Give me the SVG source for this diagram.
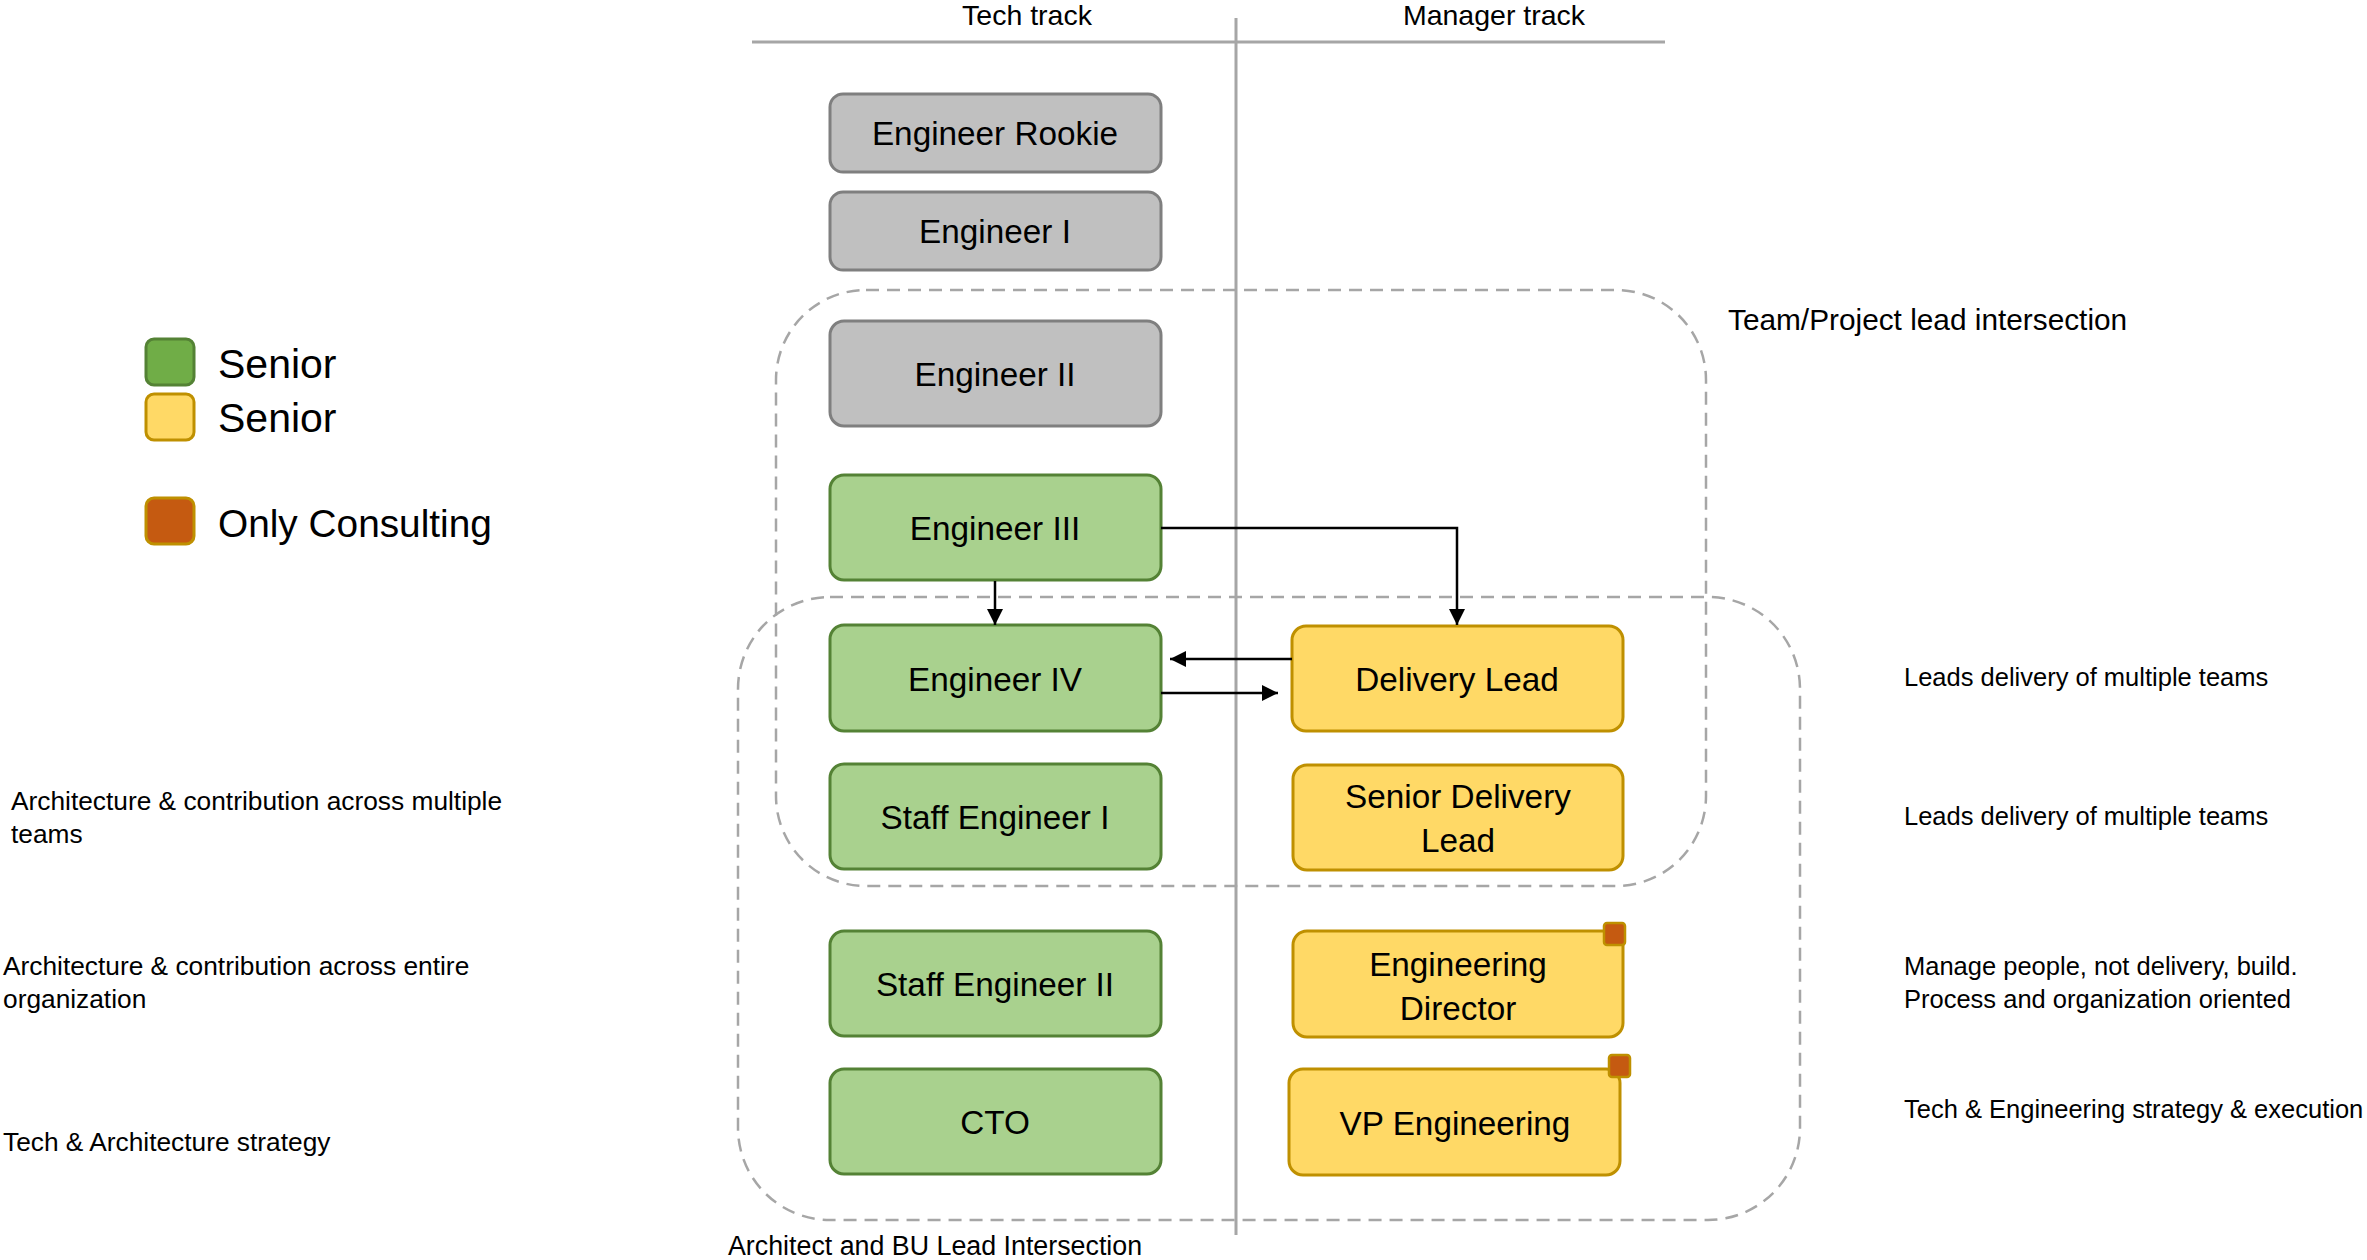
<svg xmlns="http://www.w3.org/2000/svg" width="2367" height="1260" viewBox="0 0 2367 1260">
  <style>
    text { font-family: "Liberation Sans", Arial, sans-serif; fill: #000; }
    .hdr { font-size: 28.5px; text-anchor: middle; }
    .lbl { font-size: 33.3px; text-anchor: middle; }
    .note { font-size: 25.5px; }
    .side { font-size: 26.3px; }
    .zone { font-size: 29.8px; }
    .zone-sm { font-size: 26.8px; }
    .leg { font-size: 41px; }
    .leg-sm { font-size: 38.8px; }
    .grey { fill: #c0c0c0; stroke: #7f7f7f; stroke-width: 3; }
    .green { fill: #a9d18e; stroke: #548235; stroke-width: 3; }
    .yellow { fill: #ffd966; stroke: #bf9000; stroke-width: 3; }
    .badge { fill: #c55a11; stroke: #bf9000; stroke-width: 2.5; }
    .axis { stroke: #a6a6a6; stroke-width: 3; fill: none; }
    .zonebox { fill: none; stroke: #a6a6a6; stroke-width: 2.5; stroke-dasharray: 13 8; }
    .conn { fill: none; stroke: #000; stroke-width: 2.5; }
  </style>
  <defs>
    <marker id="arrow" markerUnits="userSpaceOnUse" markerWidth="16" markerHeight="16" refX="16" refY="8" orient="auto">
      <path d="M0,0 L16,8 L0,16 Z" fill="#000"/>
    </marker>
  </defs>

  <rect width="2367" height="1260" fill="#fff"/>

  <!-- track axes -->
  <g id="axes">
    <line class="axis" x1="752" y1="42" x2="1665" y2="42" stroke-width="3.5"/>
    <line class="axis" x1="1236" y1="18" x2="1236" y2="1235"/>
    <text class="hdr" x="1027" y="25">Tech track</text>
    <text class="hdr" x="1494" y="25">Manager track</text>
  </g>

  <!-- intersection zones -->
  <g id="zone-team-lead">
    <rect class="zonebox" x="776" y="290" width="930" height="596" rx="90" ry="90"/>
    <text class="zone" x="1728" y="330">Team/Project lead intersection</text>
  </g>
  <g id="zone-architect-bu">
    <rect class="zonebox" x="738" y="597" width="1062" height="623" rx="92" ry="92"/>
    <text class="zone-sm" x="728" y="1255">Architect and BU Lead Intersection</text>
  </g>

  <!-- legend -->
  <g id="legend">
    <rect x="146" y="339" width="48" height="46" rx="8" fill="#70ad47" stroke="#548235" stroke-width="3"/>
    <text class="leg" x="218" y="378">Senior</text>
    <rect x="146" y="394" width="48" height="46" rx="8" fill="#ffd966" stroke="#bf9000" stroke-width="3"/>
    <text class="leg" x="218" y="432">Senior</text>
    <rect x="146" y="498" width="48" height="46" rx="8" fill="#c55a11" stroke="#bf9000" stroke-width="3"/>
    <text class="leg-sm" x="218" y="537">Only Consulting</text>
  </g>

  <!-- tech track -->
  <g id="engineer-rookie">
    <rect class="grey" x="830" y="94" width="331" height="78" rx="13"/>
    <text class="lbl" x="995" y="145">Engineer Rookie</text>
  </g>
  <g id="engineer-i">
    <rect class="grey" x="830" y="192" width="331" height="78" rx="13"/>
    <text class="lbl" x="995" y="243">Engineer I</text>
  </g>
  <g id="engineer-ii">
    <rect class="grey" x="830" y="321" width="331" height="105" rx="14"/>
    <text class="lbl" x="995" y="386">Engineer II</text>
  </g>
  <g id="engineer-iii">
    <rect class="green" x="830" y="475" width="331" height="105" rx="14"/>
    <text class="lbl" x="995" y="540">Engineer III</text>
  </g>
  <g id="engineer-iv">
    <rect class="green" x="830" y="625" width="331" height="106" rx="14"/>
    <text class="lbl" x="995" y="691">Engineer IV</text>
  </g>
  <g id="staff-engineer-i">
    <rect class="green" x="830" y="764" width="331" height="105" rx="14"/>
    <text class="lbl" x="995" y="829">Staff Engineer I</text>
  </g>
  <g id="staff-engineer-ii">
    <rect class="green" x="830" y="931" width="331" height="105" rx="14"/>
    <text class="lbl" x="995" y="996">Staff Engineer II</text>
  </g>
  <g id="cto">
    <rect class="green" x="830" y="1069" width="331" height="105" rx="14"/>
    <text class="lbl" x="995" y="1134">CTO</text>
  </g>

  <!-- manager track -->
  <g id="delivery-lead">
    <rect class="yellow" x="1292" y="626" width="331" height="105" rx="14"/>
    <text class="lbl" x="1457" y="691">Delivery Lead</text>
  </g>
  <g id="senior-delivery-lead">
    <rect class="yellow" x="1293" y="765" width="330" height="105" rx="14"/>
    <text class="lbl" x="1458" y="808">Senior Delivery</text>
    <text class="lbl" x="1458" y="852">Lead</text>
  </g>
  <g id="engineering-director">
    <rect class="yellow" x="1293" y="931" width="330" height="106" rx="14"/>
    <text class="lbl" x="1458" y="976">Engineering</text>
    <text class="lbl" x="1458" y="1020">Director</text>
    <rect class="badge" x="1604" y="923" width="21" height="22" rx="3"/>
  </g>
  <g id="vp-engineering">
    <rect class="yellow" x="1289" y="1069" width="331" height="106" rx="14"/>
    <text class="lbl" x="1455" y="1135">VP Engineering</text>
    <rect class="badge" x="1609" y="1055" width="21" height="22" rx="3"/>
  </g>

  <!-- role descriptions -->
  <g id="notes">
    <text class="note" x="1904" y="686">Leads delivery of multiple teams</text>
    <text class="note" x="1904" y="825">Leads delivery of multiple teams</text>
    <text class="note" x="1904" y="975">Manage people, not delivery, build.</text>
    <text class="note" x="1904" y="1008">Process and organization oriented</text>
    <text class="note" x="1904" y="1118">Tech &amp; Engineering strategy &amp; execution</text>
    <text class="side" x="11" y="810">Architecture &amp; contribution across multiple</text>
    <text class="side" x="11" y="843">teams</text>
    <text class="side" x="3" y="975">Architecture &amp; contribution across entire</text>
    <text class="side" x="3" y="1008">organization</text>
    <text class="side" x="3" y="1151">Tech &amp; Architecture strategy</text>
  </g>

  <!-- connectors -->
  <g id="connectors">
    <path class="conn" d="M995,581 V625" marker-end="url(#arrow)"/>
    <path class="conn" d="M1161,528 H1457 V625" marker-end="url(#arrow)"/>
    <path class="conn" d="M1292,659 H1170" marker-end="url(#arrow)"/>
    <path class="conn" d="M1161,693 H1278" marker-end="url(#arrow)"/>
  </g>
</svg>
